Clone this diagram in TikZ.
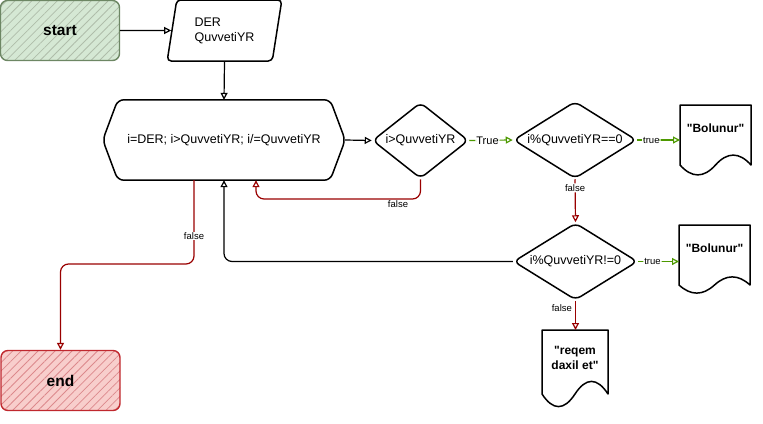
\documentclass[tikz,border=0pt]{standalone}
\usepackage{fontspec}
\setmainfont{Liberation Sans}
\usetikzlibrary{shapes.geometric,arrows.meta,patterns.meta}
\definecolor{gfill}{HTML}{D5E8D4}
\definecolor{gline}{HTML}{6D8764}
\definecolor{rfill}{HTML}{F8CECC}
\definecolor{rline}{HTML}{C0282E}
\definecolor{dred}{HTML}{990000}
\definecolor{agreen}{HTML}{4D9900}
\newcommand\docshape[6]{%
  \draw[docline] (#2,#3) -- (#2+#4,#3) -- (#2+#4,#3+#5-#6/2)
    .. controls (#2+5*#4/6,#3+#5-1.1*#6) and (#2+2*#4/3,#3+#5-1.1*#6) .. (#2+#4/2,#3+#5-#6/2)
    .. controls (#2+#4/3,#3+#5+0.1*#6) and (#2+#4/6,#3+#5+0.1*#6) .. (#2,#3+#5-#6/2) -- cycle;
  \pgfmathsetmacro\dochh{#5-#6/2}%
  \node[inner sep=0pt, minimum width=#4pt, minimum height=\dochh pt, anchor=north west] (#1) at (#2,#3) {};
}
\begin{document}
\begin{tikzpicture}[x=1pt,y=-1pt,
  maintext/.style={font=\fontsize{12.5}{15}\selectfont},
  termbox/.style={rectangle, rounded corners=7pt, minimum width=119pt, minimum height=60pt,
     line width=1.4pt, font=\fontsize{15.5}{18}\selectfont\bfseries, inner sep=0pt},
  startbox/.style={termbox, draw=gline, preaction={fill=gfill},
     pattern={Lines[angle=45,distance=6pt,line width=0.8pt]}, pattern color=gline!55},
  endbox/.style={termbox, draw=rline, preaction={fill=rfill},
     pattern={Lines[angle=45,distance=6pt,line width=0.8pt]}, pattern color=rline!55},
  iobox/.style={trapezium, trapezium left angle=77, trapezium right angle=103,
     trapezium stretches=true, minimum width=115pt, minimum height=61pt, draw, line width=1.5pt,
     rounded corners=4pt, maintext, align=left, inner sep=0pt},
  dec/.style={diamond, draw, line width=1.5pt, rounded corners=6pt, inner sep=0pt, maintext},
  docline/.style={draw, line width=1.5pt, line join=round},
  doctext/.style={font=\fontsize{12}{15}\selectfont\bfseries, align=center},
  conn/.style={line width=1.2pt, rounded corners=8pt, -{Triangle[open,length=7pt,width=7pt]}},
  karr/.style={conn, draw=black},
  garr/.style={conn, draw=agreen},
  rarr/.style={conn, draw=dred},
  lbl/.style={fill=white, inner sep=1pt, text=black, font=\fontsize{9.5}{11}\selectfont},
]
\useasboundingbox (0,0) rectangle (763,423);

% nodes
\node[startbox] (start) at (60,30.5) {start};
\node[iobox] (der) at (224.5,30.5) {DER\\QuvvetiYR};
\node[inner sep=0pt, minimum width=242pt, minimum height=80pt, maintext] (hex) at (224,140)
  {i=DER; i>QuvvetiYR; i/=QuvvetiYR};
\draw[line width=1.5pt, rounded corners=6pt] (hex.west) -- ([xshift=15pt]hex.north west)
  -- ([xshift=-15pt]hex.north east) -- (hex.east) -- ([xshift=-15pt]hex.south east)
  -- ([xshift=15pt]hex.south west) -- cycle;
\node[dec, aspect=1.263, minimum width=96pt, minimum height=76pt] (d1) at (420.5,140.5) {i>QuvvetiYR};
\node[dec, aspect=1.6, minimum width=123pt, minimum height=77pt] (d2) at (575,140) {i\%QuvvetiYR==0};
\node[dec, aspect=1.61, minimum width=124pt, minimum height=77pt] (d3) at (575.5,261.5) {i\%QuvvetiYR!=0};
\docshape{doc1}{680}{105}{71}{71}{22}
\node[doctext] (doc1t) at (715.5,128) {\textquotedbl Bolunur\textquotedbl};
\docshape{doc2}{679}{225}{71}{69}{18}
\node[doctext] (doc2t) at (714.5,248) {\textquotedbl Bolunur\textquotedbl};
\docshape{doc3}{542}{330}{66}{78}{28}
\node[doctext] (doc3t) at (575,358) {\textquotedbl reqem\\daxil et\textquotedbl};
\node[endbox] (end) at (60.5,380.5) {end};

% helper coordinates
\coordinate (lp) at (256,199);
\coordinate (hb) at ([xshift=-30pt]hex.south);
\coordinate (ek) at (0,264);

% connectors
\draw[karr] (start.east) -- (der.west);
\draw[karr] (der.south) -- (hex.north);
\draw[karr] (hex.east) -- (d1.west);
\draw[garr] (d1.east) -- (d2.west) node[lbl, pos=0.42, font=\fontsize{11}{13}\selectfont] (l1) {True};
\draw[garr] (d2.east) -- (d2.east -| doc1.west) node[lbl, pos=0.33] (l2) {true};
\draw[rarr] (d2.south) -- (d3.north) node[lbl, pos=0.2] (l3) {false};
\draw[garr] (d3.east) -- (d3.east -| doc2.west) node[lbl, pos=0.35] (l4) {true};
\draw[rarr] (d3.south) -- (d3.south |- doc3.north) node[lbl, pos=0.25, left=2pt] (l5) {false};
\draw[karr] (d3.west) -| (hex.south);
\draw[rarr] (d1.south) |- (lp) -- (lp |- hex.south);
\node[lbl] (l6) at (398,204) {false};
\draw[rarr] (hb) -- (hb |- ek) -| (end.north);
\node[lbl] (l7) at (194,236) {false};
\end{tikzpicture}
\end{document}
